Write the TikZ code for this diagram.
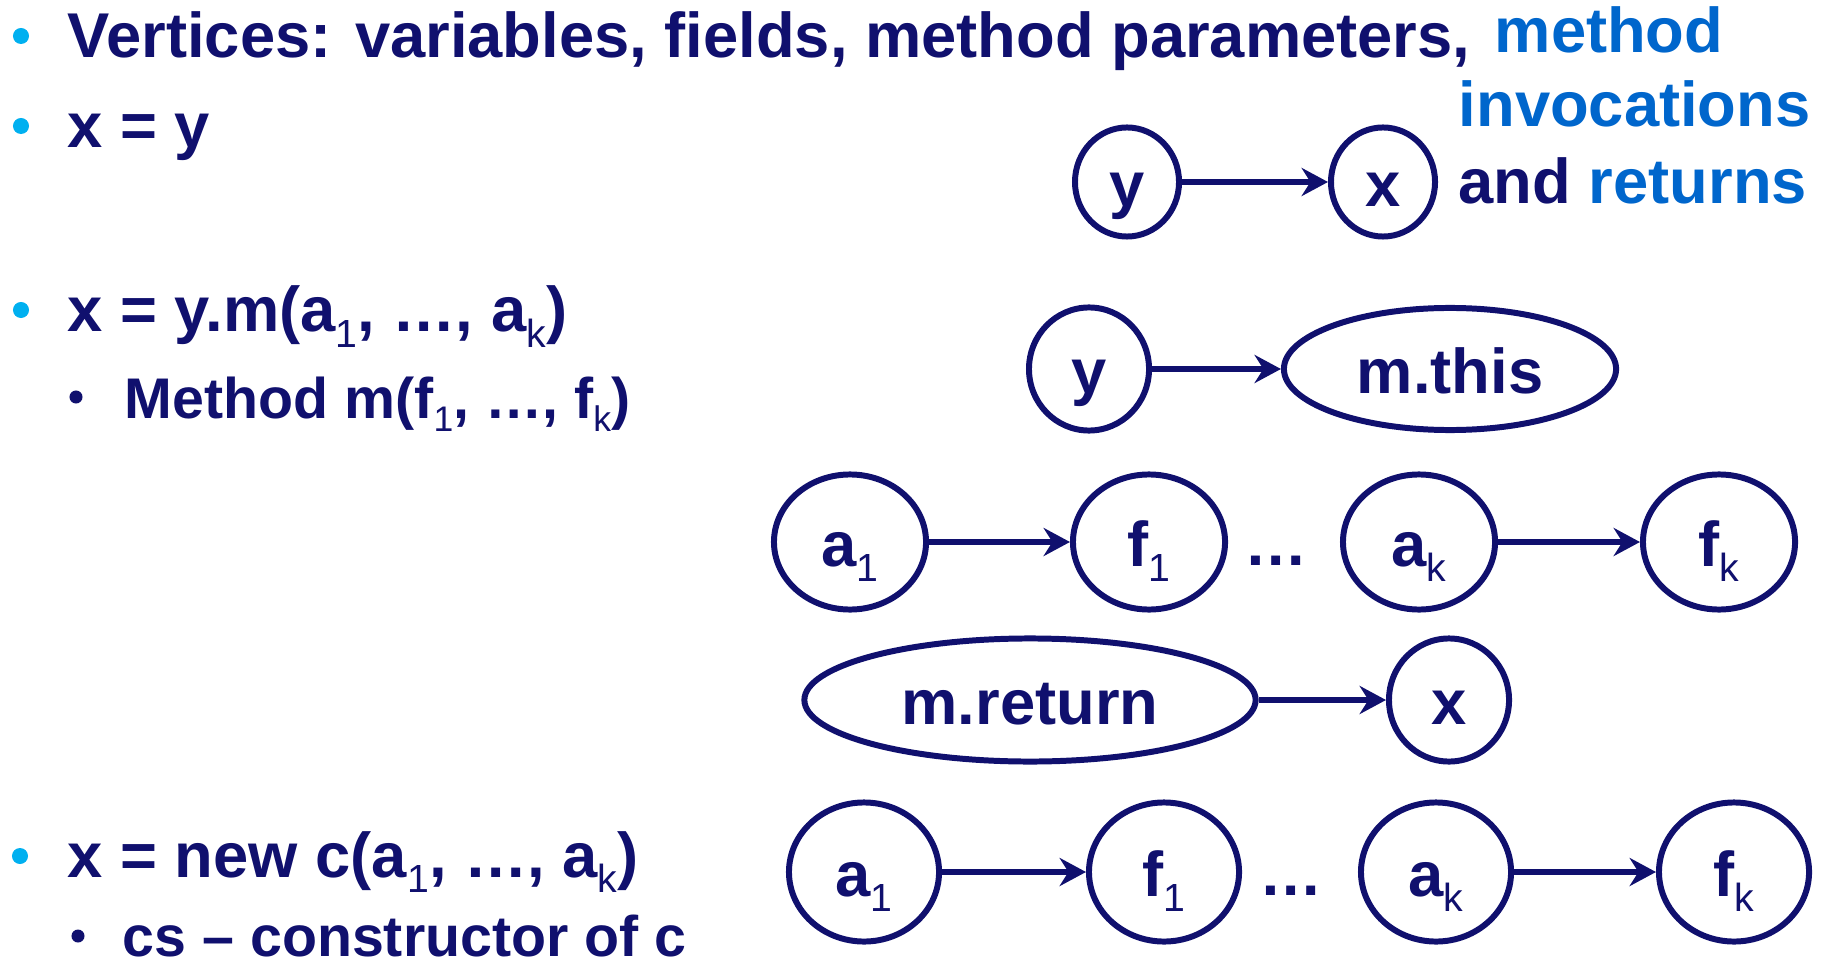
\documentclass[tikz,border=0pt]{standalone}
\usepackage{fontspec}
\setmainfont{Liberation Sans}
\usepackage{tikz}
\usetikzlibrary{shapes.geometric,arrows.meta}
\definecolor{navy}{HTML}{10106E}
\definecolor{linkblue}{HTML}{0066CC}
\definecolor{dotcyan}{HTML}{00B0F0}
\makeatletter
\newcommand\ix[1]{\raisebox{-0.24em}{\mdseries\fontsize{\fpeval{0.62*\f@size}}{1}\selectfont#1}}
\makeatother
\tikzset{
  line/.style={anchor=base west,inner sep=0pt,text=navy},
  subline/.style={line,font=\bfseries\fontsize{16.3}{20}\selectfont},
  mark1/.style={circle,fill=dotcyan,inner sep=0pt,minimum size=0.16cm},
  mark2/.style={circle,fill=navy,inner sep=0pt,minimum size=0.13cm},
  vert/.style={ellipse,draw=navy,line width=1.7pt,inner sep=0pt,text=navy,text height=0.55cm,text depth=0.07cm},
  flow/.style={draw=navy,line width=1.7pt,-{Stealth[length=7.5pt,width=8pt,inset=2.5pt]}},
}
\begin{document}
\begin{tikzpicture}[x=0.01cm,y=-0.01cm,font=\bfseries\fontsize{18}{22}\selectfont]
\useasboundingbox (0,0) rectangle (1828,964);
\node[mark1] (b1) at (21,36) {};
\node[line] (l1) at (67,58) {Vertices: variables, fields, method parameters,};
\node[line,text=linkblue] (l1b) at (1494,53) {method};
\node[line,text=linkblue] (l1c) at (1458,127) {invocations};
\node[line] (l1d) at (1458,204) {and \textcolor{linkblue}{returns}};
\node[mark1] (b2) at (21,126) {};
\node[line] (l2) at (67,148) {x = y};
\node[mark1] (b3) at (21,310) {};
\node[line] (l3) at (67,332) {x = y.m(a\ix{1}, …, a\ix{k})};
\node[mark2] (b3s) at (76,397) {};
\node[subline] (l3s) at (124,418) {Method m(f\ix{1}, …, f\ix{k})};
\node[mark1] (b4) at (20,856) {};
\node[line] (l4) at (67,877) {x = new c(a\ix{1}, …, a\ix{k})};
\node[mark2] (b4s) at (78,936) {};
\node[subline] (l4s) at (122,956) {cs – constructor of c};
\node[vert,minimum width=1.04cm,minimum height=1.09cm] (ya) at (1127,182) {y};
\node[vert,minimum width=1.04cm,minimum height=1.09cm] (xa) at (1383,182) {x};
\draw[flow] (ya) -- (xa);
\node[vert,minimum width=1.20cm,minimum height=1.23cm] (yb) at (1089,369) {y};
\node[vert,minimum width=3.32cm,minimum height=1.22cm] (mthis) at (1450,369) {m.this};
\draw[flow] (yb) -- (mthis);
\node[vert,minimum width=1.52cm,minimum height=1.35cm] (a1) at (850,542) {a\ix{1}};
\node[vert,minimum width=1.52cm,minimum height=1.35cm] (f1) at (1149,542) {f\ix{1}};
\node[anchor=base,text=navy,inner sep=0pt] (dotsa) at (1276,565) {…};
\node[vert,minimum width=1.52cm,minimum height=1.35cm] (ak) at (1419,542) {a\ix{k}};
\node[vert,minimum width=1.52cm,minimum height=1.35cm] (fk) at (1719,542) {f\ix{k}};
\draw[flow] (a1) -- (f1);
\draw[flow] (ak) -- (fk);
\node[vert,minimum width=4.51cm,minimum height=1.23cm] (mret) at (1030,700) {m.return};
\node[vert,minimum width=1.20cm,minimum height=1.23cm] (xb) at (1449,700) {x};
\draw[flow] (mret) -- (xb);
\node[vert,minimum width=1.50cm,minimum height=1.39cm] (ca1) at (864,872) {a\ix{1}};
\node[vert,minimum width=1.50cm,minimum height=1.39cm] (cf1) at (1164,872) {f\ix{1}};
\node[anchor=base,text=navy,inner sep=0pt] (dotsb) at (1291,895) {…};
\node[vert,minimum width=1.50cm,minimum height=1.39cm] (cak) at (1436,872) {a\ix{k}};
\node[vert,minimum width=1.50cm,minimum height=1.39cm] (cfk) at (1734,872) {f\ix{k}};
\draw[flow] (ca1) -- (cf1);
\draw[flow] (cak) -- (cfk);
\end{tikzpicture}
\end{document}
